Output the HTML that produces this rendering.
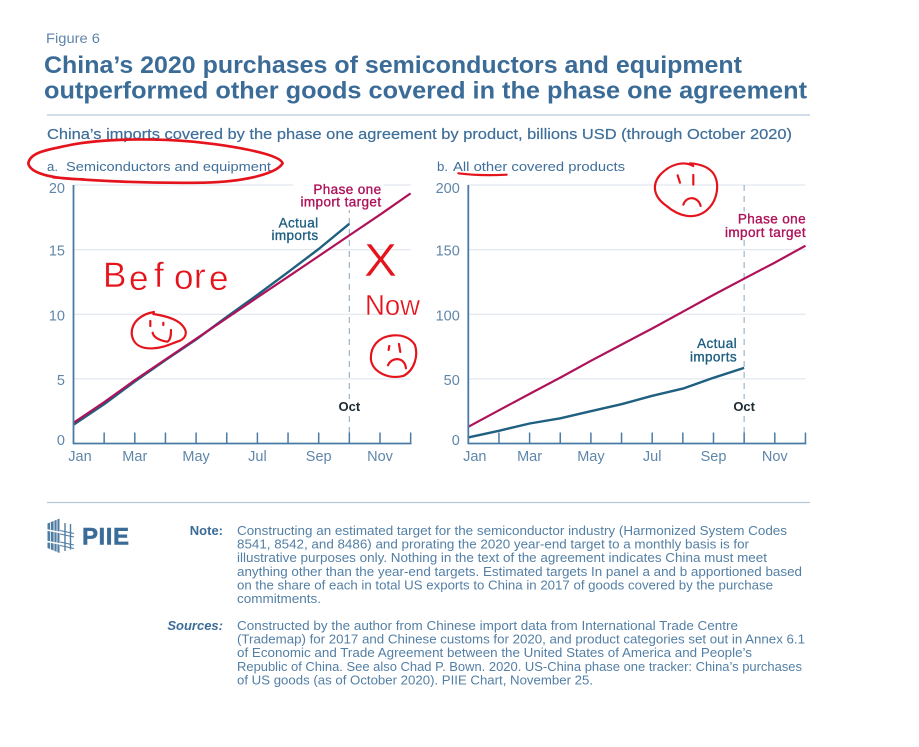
<!DOCTYPE html>
<html lang="en">
<head>
<meta charset="utf-8">
<title>China's 2020 purchases of semiconductors and equipment</title>
<style>
html,body{margin:0;padding:0;background:#fff;width:919px;height:747px;overflow:hidden}
svg{display:block;font-family:"Liberation Sans",sans-serif}
.body{font-size:13px;fill:#537fa5}
.tick{font-size:14.5px;fill:#5f86a9}
.lab{font-size:13.5px;letter-spacing:.4px;stroke-width:.35px}
.oct{font-size:13px;font-weight:bold}
.scribble{fill:none;stroke:#e5131b;stroke-linecap:round;stroke-linejoin:round}
.hand{fill:#e5131b;stroke:#ffffff;stroke-width:.4px}
</style>
</head>
<body>
<svg id="figure" xmlns="http://www.w3.org/2000/svg" width="919" height="747" viewBox="0 0 919 747">
  <rect width="919" height="747" fill="#ffffff"/>

  <text x="46" y="43" font-size="13.5" fill="#5f86a9" textLength="54" lengthAdjust="spacingAndGlyphs">Figure 6</text>
  <text x="44" y="73" font-size="24.5" font-weight="bold" fill="#3b6c98" textLength="698" lengthAdjust="spacingAndGlyphs">China’s 2020 purchases of semiconductors and equipment</text>
  <text x="44" y="98.5" font-size="24.5" font-weight="bold" fill="#3b6c98" textLength="763" lengthAdjust="spacingAndGlyphs">outperformed other goods covered in the phase one agreement</text>
  <line x1="47" y1="115" x2="810" y2="115" stroke="#b7c8d9" stroke-width="1.2"/>
  <text x="47" y="139" font-size="15" fill="#3f6f9a" stroke="#3f6f9a" stroke-width="0.2" textLength="745" lengthAdjust="spacingAndGlyphs">China’s imports covered by the phase one agreement by product, billions USD (through October 2020)</text>

  <text x="47" y="171" font-size="13" fill="#3f6f9a" textLength="11" lengthAdjust="spacingAndGlyphs">a.</text>
  <text x="66" y="171" font-size="13" fill="#3f6f9a" textLength="205" lengthAdjust="spacingAndGlyphs">Semiconductors and equipment</text>
  <text x="437" y="171" font-size="13" fill="#3f6f9a" textLength="11" lengthAdjust="spacingAndGlyphs">b.</text>
  <text x="453" y="171" font-size="13" fill="#3f6f9a" textLength="172" lengthAdjust="spacingAndGlyphs">All other covered products</text>

  <g id="panel-a"></g>
  <g id="panel-b"></g>

  <line x1="47" y1="502.5" x2="810" y2="502.5" stroke="#b7c8d9" stroke-width="1.2"/>

  <g>
    <g>
      <polygon points="47.5,523.5 59.5,518.5 59.5,553 47.5,548" fill="#4f7ca3"/>
      <path d="M50.5 521V551 M54 520V552 M57 519V553" stroke="#ffffff" stroke-width="0.8" fill="none"/>
      <path d="M47 530L74 535 M47 541.5L74 546.5" stroke="#ffffff" stroke-width="1.6" fill="none"/>
      <path d="M60 530.5L74 533.5 M60 542L74 545 M60 534L74 537 M60 545.5L74 548.5" stroke="#4f7ca3" stroke-width="1.1" fill="none"/>
      <path d="M65 523V551 M70.5 524V549.5" stroke="#4f7ca3" stroke-width="1.4" fill="none"/>
    </g>
    <text x="82" y="544.5" font-size="24" font-weight="bold" fill="#3b6c98" stroke="#3b6c98" stroke-width="0.5" textLength="48" letter-spacing="1">PIIE</text>
  </g>

  <text x="223" y="535" font-size="13" font-weight="bold" fill="#3b6c98" text-anchor="end">Note:</text>
  <g class="body">
    <text x="237" y="535" textLength="550" lengthAdjust="spacingAndGlyphs">Constructing an estimated target for the semiconductor industry (Harmonized System Codes</text>
    <text x="237" y="548.7" textLength="512" lengthAdjust="spacingAndGlyphs">8541, 8542, and 8486) and prorating the 2020 year-end target to a monthly basis is for</text>
    <text x="237" y="562.2" textLength="530" lengthAdjust="spacingAndGlyphs">illustrative purposes only. Nothing in the text of the agreement indicates China must meet</text>
    <text x="237" y="575.8" textLength="565" lengthAdjust="spacingAndGlyphs">anything other than the year-end targets. Estimated targets In panel a and b apportioned based</text>
    <text x="237" y="589.3" textLength="536" lengthAdjust="spacingAndGlyphs">on the share of each in total US exports to China in 2017 of goods covered by the purchase</text>
    <text x="237" y="603" textLength="84" lengthAdjust="spacingAndGlyphs">commitments.</text>
  </g>
  <text x="223" y="630" font-size="13" font-weight="bold" font-style="italic" fill="#3b6c98" text-anchor="end">Sources:</text>
  <g class="body">
    <text x="237" y="630" textLength="501" lengthAdjust="spacingAndGlyphs">Constructed by the author from Chinese import data from International Trade Centre</text>
    <text x="237" y="643.7" textLength="568" lengthAdjust="spacingAndGlyphs">(Trademap) for 2017 and Chinese customs for 2020, and product categories set out in Annex 6.1</text>
    <text x="237" y="657.2" textLength="515" lengthAdjust="spacingAndGlyphs">of Economic and Trade Agreement between the United States of America and People’s</text>
    <text x="237" y="670.8" textLength="565" lengthAdjust="spacingAndGlyphs">Republic of China. See also Chad P. Bown. 2020. US-China phase one tracker: China’s purchases</text>
    <text x="237" y="684.5" textLength="356" lengthAdjust="spacingAndGlyphs">of US goods (as of October 2020). PIIE Chart, November 25.</text>
  </g>

  <g>
    <g transform="translate(20 140) scale(0.3333)">
      <path class="scribble" stroke-width="8" d="M190 118 C120 118 30 105 25 70 C30 35 90 28 150 15 C250 -5 400 -5 520 5 C620 15 780 40 788 70 C770 100 680 125 550 128 C400 130 250 125 100 112"/>
      <path class="scribble" stroke-width="6.5" d="M1120 586 C1075 590 1050 620 1053 660 C1060 700 1110 718 1150 708 C1185 690 1195 645 1185 615 C1170 590 1140 582 1110 588"/>
      <path class="scribble" stroke-width="6.5" d="M1108 618 L1106 630 M1137 612 L1141 636 M1104 676 C1115 650 1155 650 1158 685"/>
    </g>
    <g transform="translate(70 300) scale(0.3333)">
      <path class="scribble" stroke-width="6.5" d="M252 36 C215 42 185 65 185 100 C188 135 215 147 250 145 C285 143 305 130 330 122 C350 112 352 95 340 80 C325 58 290 48 250 42"/>
      <path class="scribble" stroke-width="6.5" d="M241 63 L241 78 M280 68 L280 75 M248 98 C250 112 270 122 292 125 C302 120 303 105 303 90"/>
    </g>
    <g transform="translate(430 140) scale(0.3333)">
      <path class="scribble" stroke-width="6.5" d="M85 100 C130 106 190 106 230 104"/>
      <path class="scribble" stroke-width="6.5" d="M790 78 C760 62 720 72 690 105 C665 135 670 170 710 198 C745 228 790 240 825 215 C865 185 870 130 850 100 C835 80 810 72 780 70"/>
      <path class="scribble" stroke-width="6.5" d="M743 106 L750 128 M790 105 L790 134 M760 194 C770 165 805 170 812 198"/>
    </g>
    <text class="hand" x="103 129 154 174 194 209" y="287 290 287 289 288 290" font-size="35">Before</text>
    <text class="hand" x="364" y="276" font-size="46" textLength="33" lengthAdjust="spacingAndGlyphs">X</text>
    <text class="hand" x="365" y="315" font-size="29" textLength="55" lengthAdjust="spacingAndGlyphs">Now</text>
  </g>
</svg>

<script>
var months = ['Jan','Feb','Mar','Apr','May','Jun','Jul','Aug','Sep','Oct','Nov','Dec'];
var xTickLabels = ['Jan','Mar','May','Jul','Sep','Nov'];
var panelATicks = [0,5,10,15,20];
var panelBTicks = [0,50,100,150,200];
var panelAActual = [1.45,3.05,4.8,6.45,8.05,9.8,11.5,13.25,15.05,17.0];
var panelATarget = [1.6,3.2,4.9,6.5,8.1,9.7,11.3,12.9,14.5,16.1,17.7,19.35];
var panelBActual = [4.7,9.8,15.5,19.5,25,30.4,36.9,42.5,50.8,58.5];
var panelBTarget = [12.9,25.7,38.4,51,64,76.5,89,102,115,127.5,140,153];

var NS = 'http://www.w3.org/2000/svg';
var TOP = 185, BOTTOM = 443.5, STEP = 30.65;
var BLUE = '#4a7ba6', TEAL = '#1f5f80', MAGENTA = '#ae1259';

function make(parent, tag, attrs, text) {
  var el = document.createElementNS(NS, tag);
  for (var k in attrs) el.setAttribute(k, attrs[k]);
  if (text !== undefined) el.textContent = text;
  parent.appendChild(el);
  return el;
}

function drawPanel(id, left, ticks, actual, target, labels) {
  var g = document.getElementById(id);
  var yMax = ticks[ticks.length - 1];
  var right = left + STEP * (months.length - 1);
  function x(i) { return left + i * STEP; }
  function y(v) { return BOTTOM - (v / yMax) * (BOTTOM - TOP); }

  ticks.forEach(function (t, i) {
    if (i > 0) {
      var grid = make(g, 'line', {x1: left, x2: right, y1: y(t), y2: y(t), stroke: '#e2e8f0', 'stroke-width': 1.2});
      
      
    }
    var nudge = i === 0 ? 1.5 : (i === ticks.length - 1 ? 8 : 6);
    var lab = make(g, 'text', {x: left - 8.5, y: y(t) + nudge, 'text-anchor': 'end', 'class': 'tick'}, String(t));
    
    
  });

  var octX = x(months.indexOf('Oct'));
  var oct = make(g, 'line', {x1: octX, x2: octX, y1: TOP, y2: BOTTOM, stroke: '#9db4c8', 'stroke-width': 1.2, 'stroke-dasharray': '6 5'});
  
  

  labels.forEach(function (l) {
    var bg = make(g, 'rect', {x: l.x - l.w - 2, y: l.y - 12, width: l.w + 4, height: 28, fill: '#ffffff'});
    
    
    var a = make(g, 'text', {x: l.x, y: l.y, 'text-anchor': 'end', 'class': 'lab', fill: l.color, stroke: l.color}, l.lines[0]);
    
    
    var b = make(g, 'text', {x: l.x, y: l.y + l.gap, 'text-anchor': 'end', 'class': 'lab', fill: l.color, stroke: l.color}, l.lines[1]);
    
    
  });

  var octBg = make(g, 'rect', {x: octX - 14, y: 399, width: 28, height: 16, fill: '#ffffff'});
  
  
  var octLab = make(g, 'text', {x: octX, y: 411, 'text-anchor': 'middle', 'class': 'oct', fill: '#1c2a33'}, 'Oct');
  
  

  function linePath(values) {
    return values.map(function (v, i) { return (i ? 'L' : 'M') + x(i).toFixed(1) + ' ' + y(v).toFixed(1); }).join(' ');
  }
  var act = make(g, 'path', {d: linePath(actual), fill: 'none', stroke: TEAL, 'stroke-width': 2.4, 'stroke-linejoin': 'round'});
  
  
  var tar = make(g, 'path', {d: linePath(target), fill: 'none', stroke: MAGENTA, 'stroke-width': 2.2, 'stroke-linejoin': 'round'});
  
  

  var yAxis = make(g, 'line', {x1: left, x2: left, y1: TOP, y2: BOTTOM + 0.8, stroke: BLUE, 'stroke-width': 1.8});
  
  
  var xAxis = make(g, 'line', {x1: left, x2: right + 0.8, y1: BOTTOM, y2: BOTTOM, stroke: BLUE, 'stroke-width': 1.8});
  
  

  months.forEach(function (m, i) {
    if (i === 0) return;
    var tk = make(g, 'line', {x1: x(i), x2: x(i), y1: BOTTOM - 11, y2: BOTTOM, stroke: BLUE, 'stroke-width': 1.5});
    
    
  });
  xTickLabels.forEach(function (m) {
    var i = months.indexOf(m);
    var lab = make(g, 'text', {x: x(i) + (i === 0 ? 6.5 : 0), y: 461, 'text-anchor': 'middle', 'class': 'tick'}, m);
    
    
  });
}

drawPanel('panel-a', 73.5, panelATicks, panelAActual, panelATarget, [
  {x: 381.5, y: 194, w: 86, gap: 12.3, color: MAGENTA, lines: ['Phase one', 'import target']},
  {x: 318.5, y: 227.5, w: 50, gap: 12.5, color: TEAL, lines: ['Actual', 'imports']}
]);
drawPanel('panel-b', 468.3, panelBTicks, panelBActual, panelBTarget, [
  {x: 806, y: 223.5, w: 86, gap: 13.7, color: MAGENTA, lines: ['Phase one', 'import target']},
  {x: 737, y: 348, w: 50, gap: 13.7, color: TEAL, lines: ['Actual', 'imports']}
]);
</script>
</body>
</html>
